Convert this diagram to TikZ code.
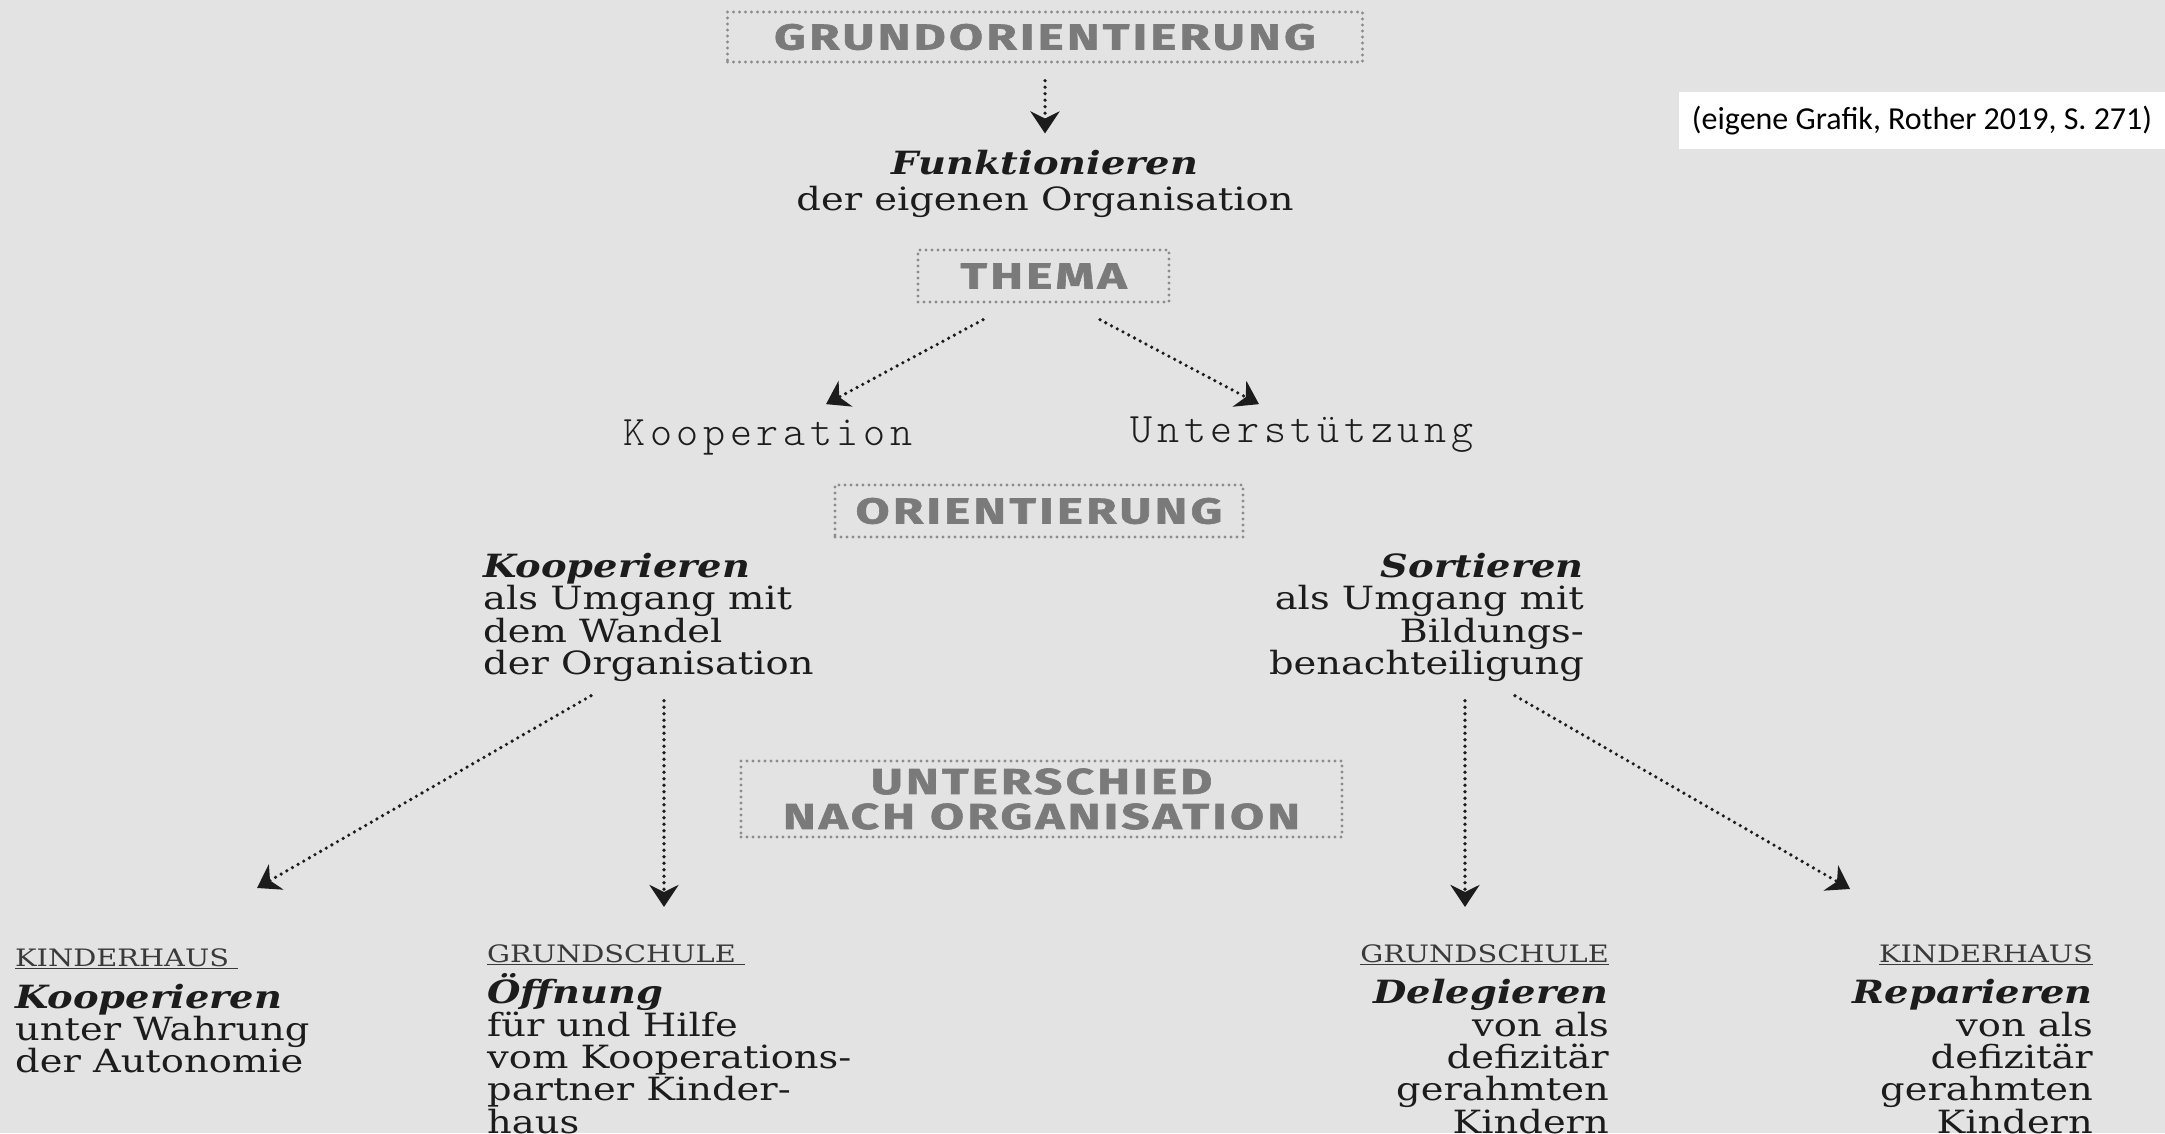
\documentclass[tikz,border=0pt]{standalone}
\usepackage{fontspec}
\usetikzlibrary{arrows.meta}
\newfontfamily\slab{DejaVu Serif}[FakeStretch=1.2]
\newfontfamily\hdr{Fira Sans}[FakeStretch=1.37,LetterSpace=9,FakeBold=1.6]
\newfontfamily\monolt{lmmonolt10-regular.otf}[LetterSpace=11]
\newfontfamily\citefnt{Carlito}
\definecolor{bg}{HTML}{E3E3E3}
\definecolor{hdrtext}{HTML}{7A7A7A}
\definecolor{hdrdots}{HTML}{8C8C8C}
\definecolor{ink}{HTML}{1C1C1C}
\definecolor{labelink}{HTML}{3A3A3A}
\newcommand{\lbl}[1]{{\color{labelink}\fontsize{24}{26}\selectfont\underline{#1}}}
\newcommand{\bi}[1]{{\bfseries\itshape #1}}
\newcommand{\leftlines}[1]{\vtop{\lineskiplimit=-100pt\lineskip=0pt\halign{##\hfil\cr#1\crcr}}}
\newcommand{\rightlines}[1]{\vtop{\lineskiplimit=-100pt\lineskip=0pt\halign{\hfil##\cr#1\crcr}}}
\newcommand{\centerlines}[1]{\vtop{\lineskiplimit=-100pt\lineskip=0pt\halign{\hfil##\hfil\cr#1\crcr}}}
\newcommand{\gap}[1]{\noalign{\vskip #1}}
\tikzset{
  hdrbox/.style={draw=hdrdots, line width=3.4pt, dash pattern=on 0pt off 6pt, line cap=round,
    text=hdrtext, font=\hdr\bfseries\fontsize{36}{35}\selectfont, inner sep=0pt, align=center},
  arr/.style={draw=ink, line width=3.6pt, dash pattern=on 0pt off 6.5pt, line cap=round,
    -{Stealth[length=22pt,width=29pt,inset=7pt]}},
  body/.style={inner sep=0pt, text=ink, font=\slab\fontsize{32}{32.3}\selectfont},
  mid/.style={inner sep=0pt, text=ink, font=\slab\fontsize{32}{32.3}\selectfont},
  top/.style={inner sep=0pt, text=ink, font=\slab\fontsize{32}{36}\selectfont},
  themeword/.style={inner sep=0pt, text=ink, font=\monolt\fontsize{42}{44}\selectfont},
}
\begin{document}
\begin{tikzpicture}[x=1pt,y=-1pt]
\useasboundingbox (0,0) rectangle (2165,1133);
\fill[bg] (0,0) rectangle (2165,1133);

\node[fill=white, inner sep=0pt, minimum width=486pt, minimum height=57pt,
  font=\citefnt\fontsize{32}{34}\selectfont, text=black] (cite) at (1922,120.5)
  {(eigene Grafik, Rother 2019, S. 271)};

\node[hdrbox, minimum width=635pt, minimum height=50pt] (gro) at (1045,37) {GRUNDORIENTIERUNG};
\node[top, anchor=base] (fn) at (1045,174)
  {\centerlines{\bi{Funktionieren}\cr der eigenen Organisation}};

\node[hdrbox, minimum width=251pt, minimum height=52pt] (thema) at (1043.5,276) {THEMA};
\node[themeword, anchor=base] (koop) at (768,445) {Kooperation};
\node[themeword, anchor=base] (unt) at (1302,442) {Unterstützung};

\node[hdrbox, minimum width=408pt, minimum height=52pt] (orient) at (1039,511) {ORIENTIERUNG};
\node[mid, anchor=base west] (kleft) at (483,577.5)
  {\leftlines{\bi{Kooperieren}\cr als Umgang mit\cr dem Wandel\cr der Organisation}};
\node[mid, anchor=base east] (sright) at (1584,577.5)
  {\rightlines{\bi{Sortieren}\cr als Umgang mit\cr Bildungs-\cr benachteiligung}};

\node[hdrbox, minimum width=601pt, minimum height=76pt] (unters) at (1041.5,799) {UNTERSCHIED\\NACH ORGANISATION};

\node[body, anchor=base west] (b1) at (15,966)
  {\leftlines{\lbl{KINDERHAUS\ }\cr\gap{10pt} \bi{Kooperieren}\cr unter Wahrung\cr der Autonomie}};
\node[body, anchor=base west] (b2) at (487,962)
  {\leftlines{\lbl{GRUNDSCHULE\ }\cr\gap{9.5pt} \bi{Öffnung}\cr für und Hilfe\cr vom Kooperations-\cr partner Kinder-\cr haus}};
\node[body, anchor=base east] (b3) at (1609,962)
  {\rightlines{\lbl{GRUNDSCHULE}\cr\gap{9.5pt} \bi{Delegieren}\cr von als\cr defizitär\cr gerahmten\cr Kindern}};
\node[body, anchor=base east] (b4) at (2093,962)
  {\rightlines{\lbl{KINDERHAUS}\cr\gap{9.5pt} \bi{Reparieren}\cr von als\cr defizitär\cr gerahmten\cr Kindern}};

\draw[arr] ([shift={(0,17)}]gro.south) -- ([shift={(0,-16)}]fn.north);
\draw[arr] ([shift={(-60.5,16)}]thema.south) -- ([shift={(58,-15)}]koop.north);
\draw[arr] ([shift={(56.5,16)}]thema.south) -- ([shift={(-43,-12)}]unt.north);
\draw[arr] ([shift={(108,14)}]kleft.south west) -- ([shift={(242,-60)}]b1.north west);
\draw[arr] ([shift={(181,19)}]kleft.south west) -- ([shift={(177,-37)}]b2.north west);
\draw[arr] ([shift={(-119,19)}]sright.south east) -- ([shift={(-144,-37)}]b3.north east);
\draw[arr] ([shift={(-69,14)}]sright.south east) -- ([shift={(-243,-55)}]b4.north east);
\end{tikzpicture}
\end{document}
